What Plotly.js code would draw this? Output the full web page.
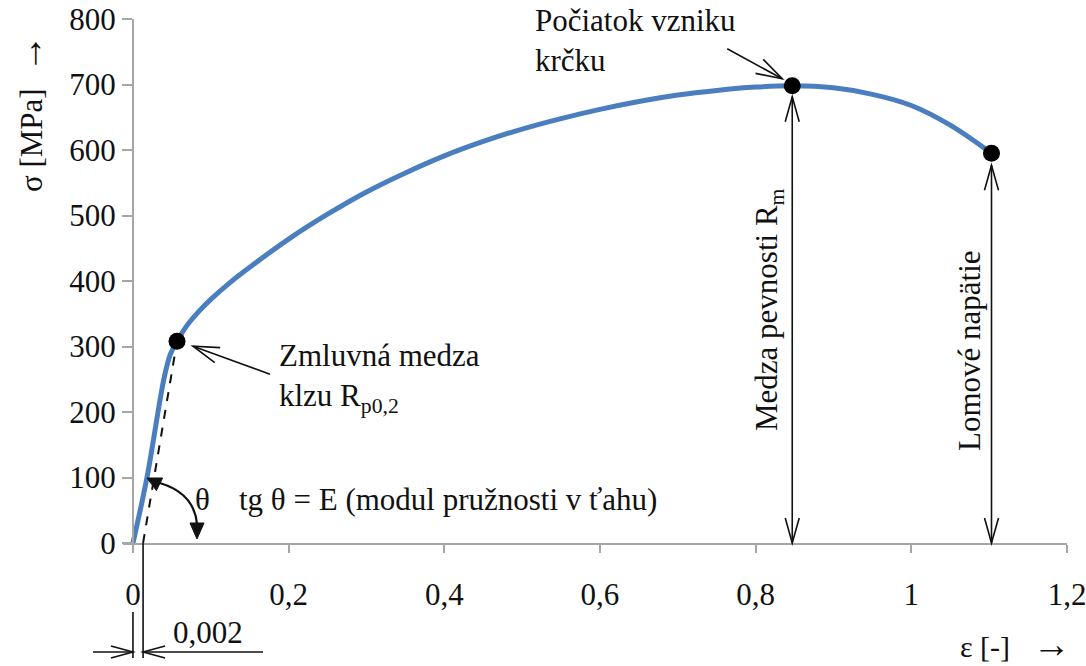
<!DOCTYPE html>
<html>
<head>
<meta charset="utf-8">
<script src="https://cdn.plot.ly/plotly-3.0.1.min.js"></script>
<style>html,body{margin:0;padding:0;background:#fff;}#chart{width:1086px;height:666px;}</style>
</head>
<body>
<div id="chart"></div>
<script>
// ---- data ----
const strain = [0, 0.018, 0.04, 0.048, 0.0566, 0.07, 0.085, 0.1, 0.125, 0.15, 0.2, 0.25, 0.3, 0.35, 0.4, 0.45, 0.5, 0.55, 0.6, 0.65, 0.7, 0.75, 0.8, 0.847, 0.9, 0.95, 1.0, 1.05, 1.103];
const stress = [0, 100, 252, 288, 308, 333, 354, 372, 398, 421, 464, 502, 536, 565, 591, 613, 632, 648, 662, 674, 684, 691, 696, 698, 695, 685, 668, 638, 595];
const offsetStrain = [0.013, 0.0566];
const offsetStress = [0, 308];
const pointNames = ['Rp0,2', 'Rm', 'Lom'];
const pointStrain = [0.0566, 0.847, 1.103];
const pointStress = [308, 698, 595];
const xTicks = [0, 0.2, 0.4, 0.6, 0.8, 1, 1.2];
const xTickText = ['0', '0,2', '0,4', '0,6', '0,8', '1', '1,2'];
const yTicks = [0, 100, 200, 300, 400, 500, 600, 700, 800];

// ---- geometry ----
const W = 1086, H = 666, mL = 123, mR = 19, mT = 19, mB = 123;
const pw = W - mL - mR, ph = H - mT - mB;
const xr = [-0.0128, 1.2], yr = [0, 800];
const PX = v => mL + (v - xr[0]) / (xr[1] - xr[0]) * pw;
const PY = v => H - mB - (v - yr[0]) / (yr[1] - yr[0]) * ph;
const qx = p => (p - mL) / pw;
const qy = p => (H - mB - p) / ph;
const pt = (x, y) => qx(x).toFixed(5) + ',' + qy(y).toFixed(5);

const FONT = 'Liberation Serif, Times New Roman, serif';
const INK = '#111';
const FS = 31;
const shapes = [];
function line(x0, y0, x1, y1, w) {
  shapes.push({type: 'path', xref: 'paper', yref: 'paper', path: 'M' + pt(x0, y0) + ' L' + pt(x1, y1),
    line: {color: INK, width: w || 1.6}});
}
function chevron(tx, ty, dx, dy, len, half) {
  const n = Math.hypot(dx, dy); dx /= n; dy /= n;
  const nx = -dy, ny = dx;
  const bx = tx - dx * len, by = ty - dy * len;
  shapes.push({type: 'path', xref: 'paper', yref: 'paper',
    path: 'M' + pt(bx + nx * half, by + ny * half) + ' L' + pt(tx, ty) + ' L' + pt(bx - nx * half, by - ny * half),
    line: {color: INK, width: 1.6}});
}
function filledHead(tx, ty, dx, dy, len, half) {
  const n = Math.hypot(dx, dy); dx /= n; dy /= n;
  const nx = -dy, ny = dx;
  const bx = tx - dx * len, by = ty - dy * len;
  shapes.push({type: 'path', xref: 'paper', yref: 'paper',
    path: 'M' + pt(bx + nx * half, by + ny * half) + ' L' + pt(tx, ty) + ' L' + pt(bx - nx * half, by - ny * half) + ' Z',
    fillcolor: INK, line: {color: INK, width: 1}});
}

// Rm double arrow
{
  const x = PX(pointStrain[1]), top = PY(pointStress[1]) + 11, bot = PY(0);
  line(x, top, x, bot); chevron(x, top, 0, -1, 25, 7); chevron(x, bot, 0, 1, 25, 7);
}
// fracture double arrow
{
  const x = PX(pointStrain[2]), top = PY(pointStress[2]) + 12, bot = PY(0);
  line(x, top, x, bot); chevron(x, top, 0, -1, 25, 7); chevron(x, bot, 0, 1, 25, 7);
}
// Rp0,2 pointer
{
  const mx = PX(pointStrain[0]), my = PY(pointStress[0]);
  const tx = mx + 16, ty = my + 5;
  line(mx + 93, my + 33, tx, ty); chevron(tx, ty, tx - (mx + 93), ty - (my + 33), 26, 8);
}
// Počiatok pointer
{
  const mx = PX(pointStrain[1]), my = PY(pointStress[1]);
  const tx = mx - 10, ty = my - 7;
  line(mx - 65, my - 37, tx, ty); chevron(tx, ty, tx - (mx - 65), ty - (my - 37), 26, 8);
}
// theta arc
{
  shapes.push({type: 'path', xref: 'paper', yref: 'paper',
    path: 'M' + pt(152, 481) + ' Q' + pt(194, 490) + ' ' + pt(197, 524), line: {color: INK, width: 2.2}});
  filledHead(147, 478, -1, -0.5, 14, 7);
  filledHead(197, 539, 0, 1, 16, 7);
}
// 0,002 dimension
{
  const x0 = PX(0), x1 = PX(offsetStrain[0]), ax = PY(0);
  line(x1, ax, x1, 658); line(x0, 612, x0, 658);
  line(93, 652, x0, 652); line(x1, 652, 263, 652);
  chevron(x0, 652, 1, 0, 22, 6); chevron(x1, 652, -1, 0, 22, 6);
}

const tf = (s) => ({family: FONT, size: s || FS, color: INK});
const ann = [];
function txt(text, x, y, xa, ya, angle, size) {
  ann.push({text: text, xref: 'paper', yref: 'paper', x: qx(x), y: qy(y), xanchor: xa, yanchor: ya,
    showarrow: false, textangle: angle || 0, font: tf(size), align: 'left'});
}
const ARROW = '<span style="font-size:38px">→</span>';
txt('Počiatok vzniku<br>krčku', 533, 40, 'left', 'middle');
txt('Zmluvná medza<br>klzu R<sub>p0,2</sub>', 277, 378, 'left', 'middle');
txt('θ', 202, 499, 'center', 'middle');
txt('tg θ = E (modul pružnosti v ťahu)', 237, 499, 'left', 'middle');
txt('Medza pevnosti R<sub>m</sub>', 769, 310, 'center', 'middle', -90);
txt('Lomové napätie', 969, 351, 'center', 'middle', -90);
txt('0,002', 208, 632, 'center', 'middle');
txt('ε [-]   ' + ARROW, 1073, 644, 'right', 'middle', 0, 30);
txt('σ [MPa]  ' + ARROW, 29, 114, 'center', 'middle', -90);

const traces = [
  {x: strain, y: stress, mode: 'lines', line: {color: '#4a7ebf', width: 5, shape: 'spline', smoothing: 1}, hoverinfo: 'skip'},
  {x: offsetStrain, y: offsetStress, mode: 'lines', line: {color: INK, width: 2, dash: 'dash'}, hoverinfo: 'skip'},
  {x: pointStrain, y: pointStress, text: pointNames, mode: 'markers', marker: {color: '#000', size: 17}, hoverinfo: 'skip'}
];

const layout = {
  width: W, height: H,
  margin: {l: mL, r: mR, t: mT, b: mB, pad: 0},
  paper_bgcolor: '#fff', plot_bgcolor: '#fff',
  showlegend: false,
  font: tf(FS),
  separators: ', ',
  xaxis: {range: xr, tickvals: xTicks, ticktext: xTickText, showgrid: false, zeroline: false,
    showline: true, linecolor: '#a6a6a6', linewidth: 2, ticks: 'outside', ticklen: 8, tickwidth: 2, tickcolor: '#a6a6a6',
    tickfont: tf(FS), ticklabelstandoff: 15, ticklabeloverflow: 'allow'},
  yaxis: {range: yr, tickvals: yTicks, showgrid: false, zeroline: false, anchor: 'free', position: qx(PX(0)),
    showline: true, linecolor: '#a6a6a6', linewidth: 2, ticks: 'outside', ticklen: 10, tickwidth: 2, tickcolor: '#a6a6a6',
    tickfont: tf(FS), ticklabelstandoff: 0, ticklabeloverflow: 'allow'},
  shapes: shapes,
  annotations: ann
};
Plotly.newPlot('chart', traces, layout, {staticPlot: true});
</script>
</body>
</html>
